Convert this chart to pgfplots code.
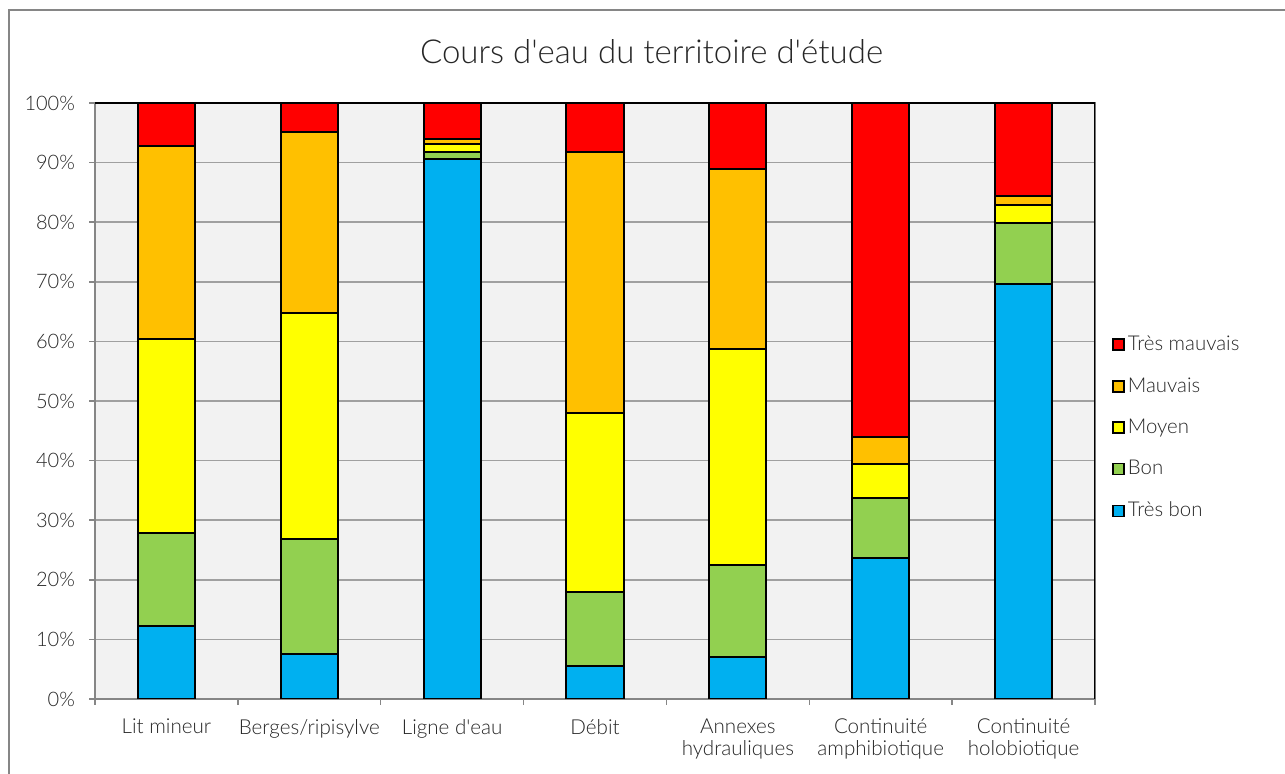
\documentclass[border=0pt]{standalone}
\usepackage{fontspec}
\setmainfont{Lato}[UprightFont=* Light]
\usepackage{pgfplots}
\pgfplotsset{compat=1.18}
\definecolor{cred}{HTML}{FF0000}
\definecolor{corange}{HTML}{FFC000}
\definecolor{cyellow}{HTML}{FFFF00}
\definecolor{cgreen}{HTML}{92D050}
\definecolor{cblue}{HTML}{00B0F0}
\definecolor{plotbg}{HTML}{F2F2F2}
\definecolor{gridgray}{HTML}{A0A0A0}
\definecolor{axisgray}{HTML}{868686}
\definecolor{txt}{HTML}{262626}
\begin{document}
\begin{tikzpicture}
\path[use as bounding box] (0,0) rectangle (642.5pt,387pt);
\draw[axisgray, line width=1pt] (4.5pt,-2pt) -- (4.5pt,382pt) -- (645pt,382pt);
\node[font=\fontsize{16.5}{19}\selectfont, text=txt] at (325.75pt,361pt) {Cours d\textquotesingle eau du territoire d\textquotesingle étude};
\begin{axis}[
  at={(47.5pt,37.5pt)}, anchor=south west, scale only axis,
  width=500pt, height=298pt,
  ybar stacked, bar width=0.4,
  xmin=-0.5, xmax=6.5, ymin=0, ymax=100,
  axis background/.style={fill=plotbg},
  tick pos=left,
  xtick={0,...,6},
  xticklabels={Lit mineur, Berges/ripisylve, Ligne d\textquotesingle eau, Débit, Annexes\\hydrauliques, Continuité\\amphibiotique, Continuité\\holobiotique},
  x tick label style={align=center, text=txt, font=\fontsize{10.3}{11}\selectfont, yshift=-3.5pt},
  y tick label style={text=txt, font=\fontsize{10}{11.5}\selectfont, xshift=-3.5pt},
  xtick style={draw=none},
  extra x ticks={-0.5,0.5,1.5,2.5,3.5,4.5,5.5,6.5},
  extra x tick labels={},
  extra x tick style={grid=none, xtick style={draw=axisgray, line width=0.75pt}, major tick length=3pt},
  ytick={0,10,...,100},
  yticklabel={\pgfmathprintnumber{\tick}\%},
  /pgf/number format/assume math mode=true,
  ytick style={draw=axisgray, line width=0.75pt},
  major tick length=3pt,
  tick align=outside,
  ymajorgrids,
  grid style={draw=gridgray, line width=0.75pt},
  axis line style={draw=axisgray, line width=1pt},
  legend style={at={(1.011,0.455)}, anchor=west, draw=none, fill=none,
     font=\fontsize{10.2}{12}\selectfont, text=txt, row sep=8pt,
     nodes={inner xsep=1.5pt}},
  legend cell align=left,
  reverse legend,
  legend image code/.code={\draw[#1, line width=0.75pt] (0pt,-2.75pt) rectangle (5.5pt,2.75pt);},
  every axis plot/.append style={draw=black, line width=1pt},
]
\addplot[fill=cblue] coordinates {(0,12.2) (1,7.6) (2,90.6) (3,5.6) (4,7.1) (5,23.6) (6,69.7)};
\addlegendentry{Très bon}
\addplot[fill=cgreen] coordinates {(0,15.6) (1,19.2) (2,1.2) (3,12.3) (4,15.3) (5,10.2) (6,10.1)};
\addlegendentry{Bon}
\addplot[fill=cyellow] coordinates {(0,32.6) (1,38.0) (2,1.4) (3,30.1) (4,36.3) (5,5.7) (6,3.1)};
\addlegendentry{Moyen}
\addplot[fill=corange] coordinates {(0,32.3) (1,30.3) (2,0.8) (3,43.7) (4,30.3) (5,4.4) (6,1.5)};
\addlegendentry{Mauvais}
\addplot[fill=cred] coordinates {(0,7.3) (1,4.9) (2,6.0) (3,8.3) (4,11.0) (5,56.1) (6,15.6)};
\addlegendentry{Très mauvais}
\draw[black, line width=1pt] (rel axis cs:0,1) -- (rel axis cs:1,1) -- (rel axis cs:1,0);
\end{axis}
\end{tikzpicture}
\end{document}
